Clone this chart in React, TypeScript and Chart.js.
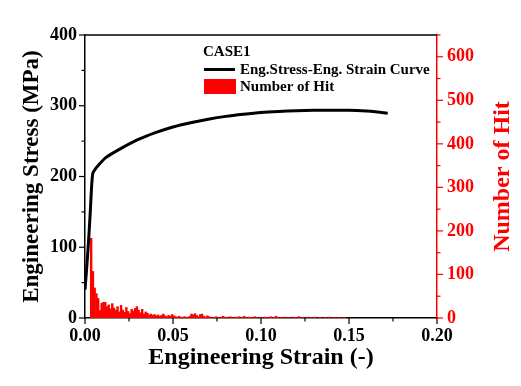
import React, { useEffect, useRef } from "react";
import { Chart, registerables } from "chart.js";

Chart.register(...registerables);

// Engineering stress-strain curve
const curveStrain = [0, 0.001, 0.002, 0.003, 0.0038, 0.0045, 0.006, 0.008, 0.012, 0.02, 0.03, 0.04, 0.05, 0.06, 0.07, 0.08, 0.09, 0.1, 0.11, 0.12, 0.13, 0.14, 0.15, 0.16, 0.165, 0.172];
const curveStress = [40, 72, 108, 150, 188, 205, 211, 217, 227, 239, 252, 262, 270, 276, 281, 285, 288, 290.5, 292, 293, 293.5, 293.5, 293.5, 292.5, 291.5, 289.5];

// Histogram of hits (bin width 0.001, first bin starts at 0.003)
const hitBinStart = 0.003;
const hitBinWidth = 0.001;
const hitCounts = [
  183, 107, 69, 56, 45, 17, 34, 36, 36, 26,
  30, 21, 33, 23, 18, 26, 14, 29, 18, 13,
  24, 15, 10, 20, 16, 22, 26, 18, 12, 20,
  9, 14, 11, 7, 9, 6, 8, 5, 7, 4,
  6, 9, 5, 3, 6, 4, 8, 5, 3, 2,
  4, 2, 1, 3, 2, 1, 4, 9, 7, 10,
  6, 3, 8, 9, 4, 2, 5, 3, 2, 0,
  1, 3, 1, 0, 2, 4, 1, 2, 0, 3,
  1, 0, 2, 1, 3, 0, 2, 4, 1, 0,
  2, 1, 0, 3, 1, 0, 2, 1, 0, 2,
  0, 1, 3, 0, 1, 4, 2, 0, 1, 0,
  2, 0, 1, 0, 0, 2, 1, 0, 3, 0,
  1, 0, 0, 2, 0, 1, 0, 2, 0, 0,
  1, 0, 0, 1, 0, 2, 0, 0, 1, 0,
  0, 1, 0, 0, 1
];

const xTickValues = [0, 0.05, 0.1, 0.15, 0.2];
const yLeftTickValues = [0, 100, 200, 300, 400];
const yRightTickValues = [0, 100, 200, 300, 400, 500, 600];

const legendTitle = "CASE1";
const xTitle = "Engineering Strain (-)";
const yLeftTitle = "Engineering Stress (MPa)";
const yRightTitle = "Number of Hit";

const FONT = "'Liberation Serif', 'Times New Roman', serif";
const RED = "#ff0000";

function isMajor(value: number, list: number[]) {
  return list.some((v) => Math.abs(v - value) < 1e-9);
}

const decorPlugin = {
  id: "decor",
  afterDraw(chart: any) {
    const ctx = chart.ctx;
    const area = chart.chartArea;
    const sx = chart.scales.x;
    const sy = chart.scales.y;
    const sy1 = chart.scales.y1;
    ctx.save();
    // top border
    ctx.strokeStyle = "#000";
    ctx.lineWidth = 1.5;
    ctx.beginPath();
    ctx.moveTo(area.left, area.top);
    ctx.lineTo(area.right, area.top);
    ctx.stroke();

    // ticks
    const drawTicks = (scale: any, majors: number[], dir: string, color: string) => {
      ctx.strokeStyle = color;
      ctx.lineWidth = 1.2;
      for (const t of scale.ticks) {
        const major = isMajor(t.value, majors);
        const len = major ? 6 : 3.5;
        const p = scale.getPixelForValue(t.value);
        ctx.beginPath();
        if (dir === "down") {
          ctx.moveTo(p, area.bottom);
          ctx.lineTo(p, area.bottom + len);
        } else if (dir === "left") {
          ctx.moveTo(area.left, p);
          ctx.lineTo(area.left - len, p);
        } else {
          ctx.moveTo(area.right, p);
          ctx.lineTo(area.right + len, p);
        }
        ctx.stroke();
      }
    };
    drawTicks(sx, xTickValues, "down", "#000");
    drawTicks(sy, yLeftTickValues, "left", "#000");
    drawTicks(sy1, yRightTickValues, "right", RED);

    // right axis title (reads bottom to top)
    ctx.fillStyle = RED;
    ctx.font = `bold 24px ${FONT}`;
    ctx.textAlign = "center";
    ctx.textBaseline = "middle";
    ctx.translate(503, (area.top + area.bottom) / 2);
    ctx.rotate(-Math.PI / 2);
    ctx.fillText(yRightTitle, 0, 0);
    ctx.restore();

    // legend
    ctx.save();
    const ds = chart.data.datasets;
    ctx.fillStyle = "#000";
    ctx.font = `bold 15px ${FONT}`;
    ctx.textAlign = "left";
    ctx.textBaseline = "middle";
    ctx.fillText(legendTitle, 203, 52);
    ctx.strokeStyle = "#000";
    ctx.lineWidth = 3;
    ctx.beginPath();
    ctx.moveTo(204, 69.5);
    ctx.lineTo(235, 69.5);
    ctx.stroke();
    ctx.fillText(ds[0].label, 240, 70);
    ctx.fillStyle = RED;
    ctx.fillRect(204, 79, 32, 15);
    ctx.fillStyle = "#000";
    ctx.fillText(ds[1].label, 240, 87);
    ctx.restore();
  },
};

export default function App() {
  const ref = useRef<HTMLCanvasElement | null>(null);

  useEffect(() => {
    if (!ref.current) return;
    const curve = curveStrain.map((x, i) => ({ x, y: curveStress[i] }));
    const hits = hitCounts.map((y, i) => ({ x: hitBinStart + hitBinWidth * (i + 0.5), y }));
    const tickFont = { family: FONT, size: 18, weight: "bold" as const };
    const titleFont = { family: FONT, size: 24, weight: "bold" as const };

    const chart = new Chart(ref.current, {
      type: "bar",
      data: {
        datasets: [
          {
            type: "line",
            label: "Eng.Stress-Eng. Strain Curve",
            data: curve,
            yAxisID: "y",
            borderColor: "#000",
            borderWidth: 3,
            pointRadius: 0,
            tension: 0.2,
            order: 0,
          } as any,
          {
            type: "bar",
            label: "Number of Hit",
            data: hits,
            yAxisID: "y1",
            backgroundColor: RED,
            borderWidth: 0,
            barPercentage: 1,
            categoryPercentage: 1,
            order: 1,
          } as any,
        ],
      },
      options: {
        animation: false,
        responsive: true,
        maintainAspectRatio: false,
        layout: { padding: { top: 35, left: 0, right: 0, bottom: 0 } },
        plugins: { legend: { display: false }, tooltip: { enabled: false } },
        scales: {
          x: {
            type: "linear",
            min: 0,
            max: 0.2,
            offset: false,
            grid: { display: false, drawTicks: false },
            border: { color: "#000", width: 1.5 },
            ticks: {
              stepSize: 0.025,
              autoSkip: false,
              maxRotation: 0,
              padding: 8,
              color: "#000",
              font: tickFont,
              callback: (v: any) => (isMajor(Number(v), xTickValues) ? Number(v).toFixed(2) : ""),
            },
            title: { display: true, text: xTitle, color: "#000", font: titleFont, padding: { top: 4, bottom: 14 } },
            afterFit: (s: any) => {
              s.height = 68;
            },
          },
          y: {
            type: "linear",
            position: "left",
            min: 0,
            max: 400,
            grid: { display: false, drawTicks: false },
            border: { color: "#000", width: 1.5 },
            ticks: {
              stepSize: 50,
              autoSkip: false,
              padding: 8,
              color: "#000",
              font: tickFont,
              callback: (v: any) => (isMajor(Number(v), yLeftTickValues) ? String(v) : ""),
            },
            title: { display: true, text: yLeftTitle, color: "#000", font: { ...titleFont, size: 23 }, padding: { top: 18, bottom: 4 } },
            afterFit: (s: any) => {
              s.width = 85;
            },
          },
          y1: {
            type: "linear",
            position: "right",
            min: 0,
            max: 650,
            grid: { display: false, drawTicks: false },
            border: { color: RED, width: 1.5 },
            ticks: {
              stepSize: 50,
              autoSkip: false,
              padding: 10,
              color: RED,
              font: tickFont,
              callback: (v: any) => (isMajor(Number(v), yRightTickValues) ? String(v) : ""),
            },
            afterFit: (s: any) => {
              s.width = 84;
            },
          },
        },
      },
      plugins: [decorPlugin],
    });
    return () => chart.destroy();
  }, []);

  return (
    <div style={{ position: "absolute", left: 0, top: 0, width: 521, height: 386, background: "#fff" }}>
      <canvas ref={ref} />
    </div>
  );
}
